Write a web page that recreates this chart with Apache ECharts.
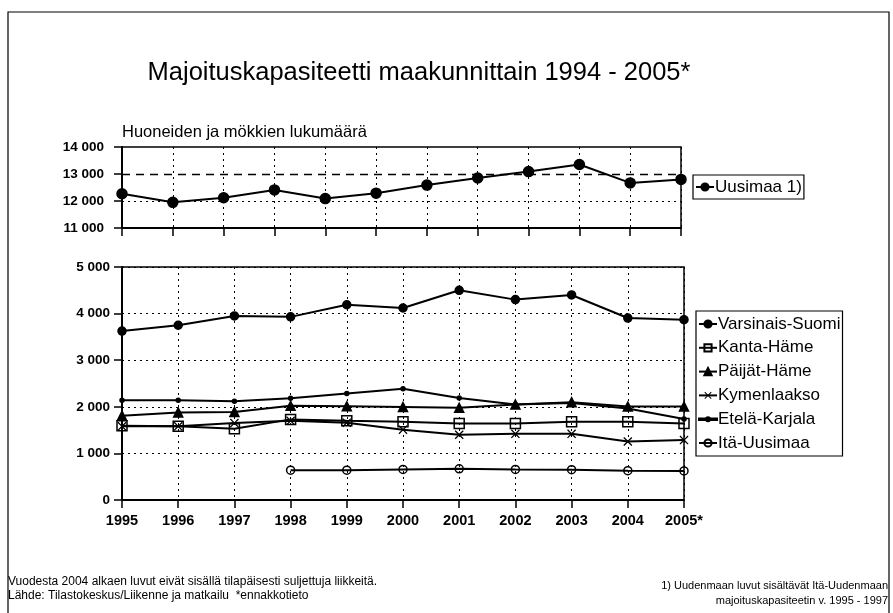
<!DOCTYPE html>
<html>
<head>
<meta charset="utf-8">
<script src="https://cdn.jsdelivr.net/npm/echarts@6/dist/echarts.min.js"></script>
<style>html,body{margin:0;padding:0;background:#fff;}#c{width:893px;height:613px;}</style>
</head>
<body>
<div id="c"></div>
<script>
// ---- data ----
const topYears = ['1994','1995','1996','1997','1998','1999','2000','2001','2002','2003','2004','2005'];
const uusimaa = [12270, 11950, 12120, 12410, 12090, 12290, 12590, 12850, 13090, 13350, 12670, 12800];

const years = ['1995','1996','1997','1998','1999','2000','2001','2002','2003','2004','2005*'];
const varsinaisSuomi = [3625, 3750, 3950, 3930, 4190, 4120, 4500, 4300, 4400, 3905, 3870];
const kantaHame      = [1595, 1580, 1530, 1730, 1700, 1680, 1640, 1640, 1680, 1680, 1640];
const paijatHame     = [1810, 1880, 1890, 2020, 2010, 1995, 1980, 2050, 2100, 2005, 2005];
const kymenlaakso    = [1580, 1580, 1650, 1700, 1660, 1510, 1400, 1420, 1420, 1255, 1285];
const etelaKarjala   = [2140, 2140, 2120, 2185, 2285, 2385, 2190, 2050, 2080, 1965, 1740];
const itaUusimaa     = [null, null, null, 640, 640, 655, 670, 655, 650, 630, 625];

const topTicks = [11000, 12000, 13000, 14000];
const bottomTicks = [0, 1000, 2000, 3000, 4000, 5000];

const FONT = '"Liberation Sans", Arial, sans-serif';
const fmt = v => v === 0 ? '0' : String(v).replace(/\B(?=(\d{3})+(?!\d))/g, ' ');
const xMarker = 'path://M0,1L1,0L5,4L9,0L10,1L6,5L10,9L9,10L5,6L1,10L0,9L4,5Z';
const smallDotIcon = 'path://M0,4.2L20,4.2L20,5.8L0,5.8Z M10,2.8A2.2,2.2 0 1,1 10,7.2A2.2,2.2 0 1,1 10,2.8Z';

function lineSeries(name, data, symbol, size, fill, grid) {
  return {
    name, type: 'line', data,
    xAxisIndex: grid, yAxisIndex: grid,
    symbol, symbolSize: size,
    showAllSymbol: true,
    connectNulls: false,
    lineStyle: { color: '#000', width: 2 },
    itemStyle: { color: fill, borderColor: '#000', borderWidth: 1.5 },
    animation: false
  };
}

const chart = echarts.init(document.getElementById('c'), null, { renderer: 'canvas' });

const yLabelStyle = { color: '#000', fontFamily: FONT, fontSize: 13.5, fontWeight: 'bold' };
const xLabelStyle = { color: '#000', fontFamily: FONT, fontSize: 14.5, fontWeight: 'bold' };
const dotted = { color: '#000', width: 1, type: [2, 4] };
const tickStyle = { show: true, length: 8, lineStyle: { color: '#000', width: 1.5 } };

const uusSeries = lineSeries('Uusimaa 1)', uusimaa, 'circle', 10, '#000', 0);
uusSeries.markLine = {
  silent: true, symbol: 'none', label: { show: false }, animation: false,
  data: [
    { yAxis: 13000, lineStyle: { color: '#000', width: 1.3, type: [8, 6] } },
    { yAxis: 12000, lineStyle: { color: '#000', width: 1, type: [2, 4] } }
  ]
};

const legendText = { fontFamily: FONT, fontSize: 17, lineHeight: 17, color: '#000', padding: [0, 0, 0, -4] };

chart.setOption({
  backgroundColor: '#fff',
  animation: false,
  textStyle: { fontFamily: FONT },
  title: {
    text: 'Majoituskapasiteetti maakunnittain 1994 - 2005*',
    left: 414, top: 55, textAlign: 'center',
    textStyle: { fontFamily: FONT, fontSize: 25.5, fontWeight: 'normal', color: '#000' }
  },
  grid: [
    { left: 122, top: 147, width: 559, height: 81, show: true, borderColor: '#000', borderWidth: 1.5, backgroundColor: 'transparent' },
    { left: 122, top: 267, width: 562, height: 233, show: true, borderColor: '#000', borderWidth: 1.5, backgroundColor: 'transparent' }
  ],
  xAxis: [
    {
      gridIndex: 0, type: 'category', data: topYears, boundaryGap: false,
      axisLine: { lineStyle: { color: '#000', width: 2 } },
      axisTick: tickStyle,
      axisLabel: { show: false },
      splitLine: { show: true, lineStyle: dotted }
    },
    {
      gridIndex: 1, type: 'category', data: years, boundaryGap: false,
      axisLine: { lineStyle: { color: '#000', width: 2 } },
      axisTick: tickStyle,
      axisLabel: Object.assign({ margin: 13 }, xLabelStyle),
      splitLine: { show: true, lineStyle: dotted }
    }
  ],
  yAxis: [
    {
      gridIndex: 0, type: 'value', min: topTicks[0], max: topTicks[topTicks.length - 1], interval: 1000,
      axisLine: { show: true, lineStyle: { color: '#000', width: 2 } },
      axisTick: tickStyle,
      axisLabel: Object.assign({ margin: 18, formatter: fmt }, yLabelStyle),
      splitLine: { show: false }
    },
    {
      gridIndex: 1, type: 'value', min: bottomTicks[0], max: bottomTicks[bottomTicks.length - 1], interval: 1000,
      axisLine: { show: true, lineStyle: { color: '#000', width: 2 } },
      axisTick: tickStyle,
      axisLabel: Object.assign({ margin: 12, formatter: fmt }, yLabelStyle),
      splitLine: { show: true, lineStyle: dotted }
    }
  ],
  legend: [
    {
      data: ['Uusimaa 1)'],
      left: 693, top: 175, orient: 'vertical',
      borderColor: '#000', borderWidth: 1.2, padding: [3.5, 2, 3.5, 2],
      itemWidth: 18, itemHeight: 9, itemGap: 8,
      textStyle: legendText
    },
    {
      data: [
        'Varsinais-Suomi', 'Kanta-Häme', 'Päijät-Häme', 'Kymenlaakso',
        { name: 'Etelä-Karjala', icon: smallDotIcon },
        'Itä-Uusimaa'
      ],
      left: 696, top: 311, orient: 'vertical',
      borderColor: '#000', borderWidth: 1.2, padding: [4.5, 2, 4.5, 2],
      itemWidth: 18, itemHeight: 9, itemGap: 6.8,
      textStyle: legendText
    }
  ],
  series: [
    uusSeries,
    lineSeries('Varsinais-Suomi', varsinaisSuomi, 'circle', 8, '#000', 1),
    lineSeries('Kanta-Häme', kantaHame, 'rect', 10, 'rgba(255,255,255,0)', 1),
    lineSeries('Päijät-Häme', paijatHame, 'triangle', 9, '#000', 1),
    Object.assign(lineSeries('Kymenlaakso', kymenlaakso, xMarker, 9, '#000', 1), { itemStyle: { color: '#000', borderWidth: 0 } }),
    lineSeries('Etelä-Karjala', etelaKarjala, 'circle', 4, '#000', 1),
    lineSeries('Itä-Uusimaa', itaUusimaa, 'circle', 8, 'rgba(255,255,255,0)', 1)
  ],
  graphic: [
    { type: 'rect', x: 8, y: 12, shape: { x: 0, y: 0, width: 881, height: 620 }, style: { fill: 'none', stroke: '#000', lineWidth: 1.2 }, silent: true },
    { type: 'text', left: 122, top: 124, style: { text: 'Huoneiden ja mökkien lukumäärä', font: '16.5px ' + FONT, fill: '#000' } },
    { type: 'text', left: 8, top: 576, style: { text: 'Vuodesta 2004 alkaen luvut eivät sisällä tilapäisesti suljettuja liikkeitä.', font: '12px ' + FONT, fill: '#000' } },
    { type: 'text', left: 8, top: 590, style: { text: 'Lähde: Tilastokeskus/Liikenne ja matkailu  *ennakkotieto', font: '12px ' + FONT, fill: '#000' } },
    { type: 'text', right: 5, top: 580, style: { text: '1) Uudenmaan luvut sisältävät Itä-Uudenmaan', font: '11px ' + FONT, fill: '#000' } },
    { type: 'text', right: 5, top: 595, style: { text: 'majoituskapasiteetin v. 1995 - 1997', font: '11px ' + FONT, fill: '#000' } }
  ]
});
</script>
</body>
</html>
